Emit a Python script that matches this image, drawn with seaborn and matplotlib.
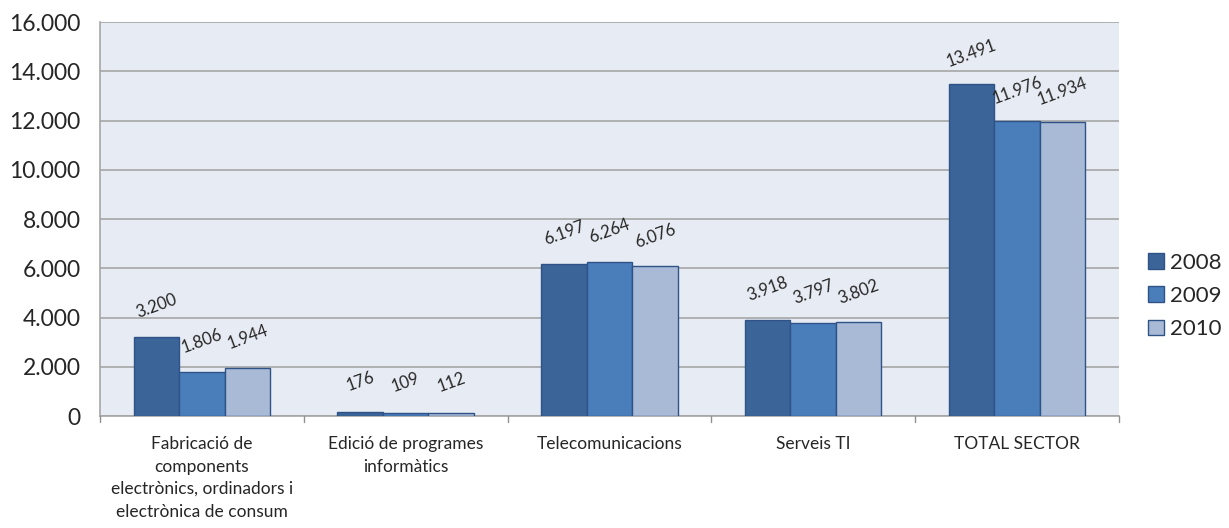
import numpy as np
import pandas as pd
import matplotlib
matplotlib.use("Agg")
import matplotlib.pyplot as plt
import matplotlib.transforms as mtransforms
import seaborn as sns

# dades del gràfic
categories = [
    "Fabricació de\ncomponents\nelectrònics, ordinadors i\nelectrònica de consum",
    "Edició de programes\ninformàtics",
    "Telecomunicacions",
    "Serveis TI",
    "TOTAL SECTOR",
]
years = ["2008", "2009", "2010"]
v2008 = [3200, 176, 6197, 3918, 13491]
v2009 = [1806, 109, 6264, 3797, 11976]
v2010 = [1944, 112, 6076, 3802, 11934]
yticks = [0, 2000, 4000, 6000, 8000, 10000, 12000, 14000, 16000]

df = pd.DataFrame({
    "cat": categories * 3,
    "year": [y for y in years for _ in categories],
    "value": v2008 + v2009 + v2010,
})

sns.set_style("white")
plt.rcParams["font.family"] = ["Lato", "DejaVu Sans"]

colors = ["#3B6499", "#4A7EBB", "#A9BAD7"]

fig = plt.figure(figsize=(12.29, 5.28), dpi=100)
ax = fig.add_axes([0.0814, 0.212, 0.829, 0.746])
ax.set_facecolor("#E7EBF3")

sns.barplot(data=df, x="cat", y="value", hue="year", palette=colors, saturation=1,
            width=0.67, edgecolor="#2F5386", linewidth=1.0, ax=ax, zorder=3)

ax.set_ylim(0, 16000)
ax.set_yticks(yticks)
ax.set_yticklabels([f"{t:,}".replace(",", ".") for t in yticks], fontsize=16.5)
ax.grid(axis="y", color="#A6A6A6", linewidth=1.2, zorder=0)
ax.set_xlim(-0.5, len(categories) - 0.5)
ax.set_xticks(range(len(categories)))
ax.set_xticklabels([])
ax.set_xlabel("")
ax.set_ylabel("")
ax.tick_params(axis="x", length=0)
ax.tick_params(axis="y", length=0, pad=14)

# etiquetes de categoria (amb interlineat més ample)
lab_tr = ax.get_xaxis_transform() + mtransforms.ScaledTranslation(0, -20 / 100, fig.dpi_scale_trans)
for i, c in enumerate(categories):
    ax.text(i, 0, c, transform=lab_tr, ha="center", va="top",
            fontsize=12.5, linespacing=1.5)

# petites marques entre categories
for b in np.arange(-0.5, len(categories), 1.0):
    ax.plot([b, b], [0, -250], color="#909090", lw=1, clip_on=False, zorder=4)

for s in ["top", "right"]:
    ax.spines[s].set_visible(False)
ax.spines["left"].set_color("#A6A6A6")
ax.spines["bottom"].set_color("#A6A6A6")
ax.spines["left"].set_linewidth(1.2)
ax.spines["bottom"].set_linewidth(1.2)

# etiquetes de valor
for cont in ax.containers:
    for bar in cont:
        h = bar.get_height()
        ax.text(bar.get_x() + bar.get_width() / 2, h + 1250,
                f"{int(h):,}".replace(",", "."), ha="center", va="center",
                rotation=20, fontsize=12)

leg = ax.legend(loc="center left", bbox_to_anchor=(1.02, 0.305), frameon=False,
                fontsize=16, handlelength=0.7, handleheight=0.7,
                labelspacing=0.6, handletextpad=0.3, borderaxespad=0)

fig.savefig("out.png", dpi=100, facecolor="white")
